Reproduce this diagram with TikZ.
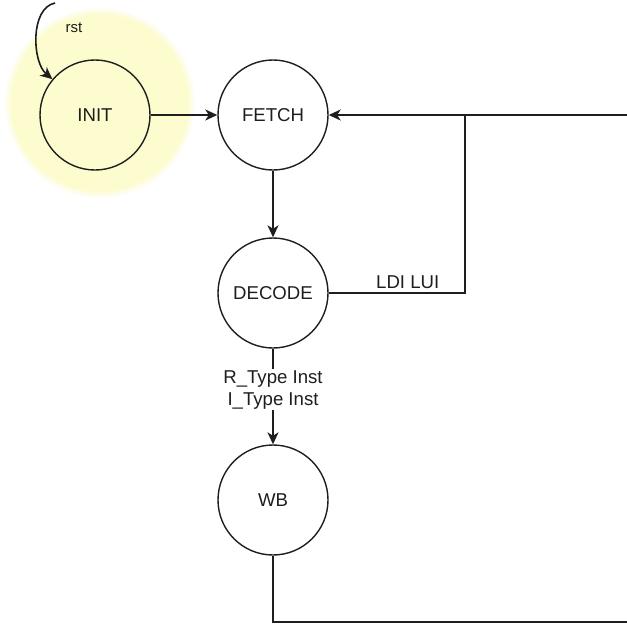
\documentclass[tikz,border=0pt]{standalone}
\usepackage{fontspec}
\setmainfont{Liberation Sans}
\usetikzlibrary{arrows.meta}
\definecolor{glowcol}{RGB}{253,252,206}
\definecolor{inkcol}{RGB}{30,30,30}
\tikzset{
  state/.style={circle, draw=inkcol, line width=1.4pt, minimum size=110pt, inner sep=0pt,
    font=\fontsize{18.6}{22}\selectfont, text=inkcol},
  wire/.style={draw=inkcol, line width=1.4pt},
  arrowwire/.style={wire, -{Stealth[length=12pt,width=11pt,inset=3.5pt]}},
  lbl/.style={font=\fontsize{18.6}{22.5}\selectfont, text=inkcol},
}
\begin{document}
\begin{tikzpicture}[x=1pt,y=-1pt]
\useasboundingbox (0,0) rectangle (627,624);
\fill[white] (0,0) rectangle (627,624);

% soft highlight behind the initial state
\foreach \r/\o in {95/0.15,93/0.3,91/0.5,89/0.75,87/1}{
  \fill[glowcol, opacity=\o] (100,103) circle (\r);
}

% states
\node[state] (init)   at (95,115)  {INIT};
\node[state] (fetch)  at (273,115) {FETCH};
\node[state] (decode) at (273,293) {DECODE};
\node[state] (wb)     at (273,500) {WB};

% free ends and bends
\coordinate (rstsrc) at (55,3);
\coordinate (join)   at (465,115);
\coordinate (fetchin) at (627,115);
\coordinate (wbturn) at (273,622);
\coordinate (wbout)  at (627,622);

% reset entry
\draw[arrowwire, line width=1.6pt] (rstsrc) .. controls (30,8) and (32,62) .. (init);
\node[font=\fontsize{15}{18}\selectfont, text=inkcol, anchor=base] (rstlbl) at (74,32) {rst};

% transitions
\draw[arrowwire] (init) -- (fetch);
\draw[arrowwire] (fetch) -- (decode);
\draw[wire] (decode.east) -| node[lbl, pos=0.29, anchor=base, yshift=5pt] {LDI LUI} (join);
\draw[arrowwire] (fetchin) -- (fetch);
\draw[arrowwire] (decode) -- node[lbl, pos=0.43, fill=white, align=center, inner sep=1pt] {R\_Type Inst\\I\_Type Inst} (wb);
\draw[wire] (wb) -- (wbturn) -- (wbout);
\end{tikzpicture}
\end{document}
